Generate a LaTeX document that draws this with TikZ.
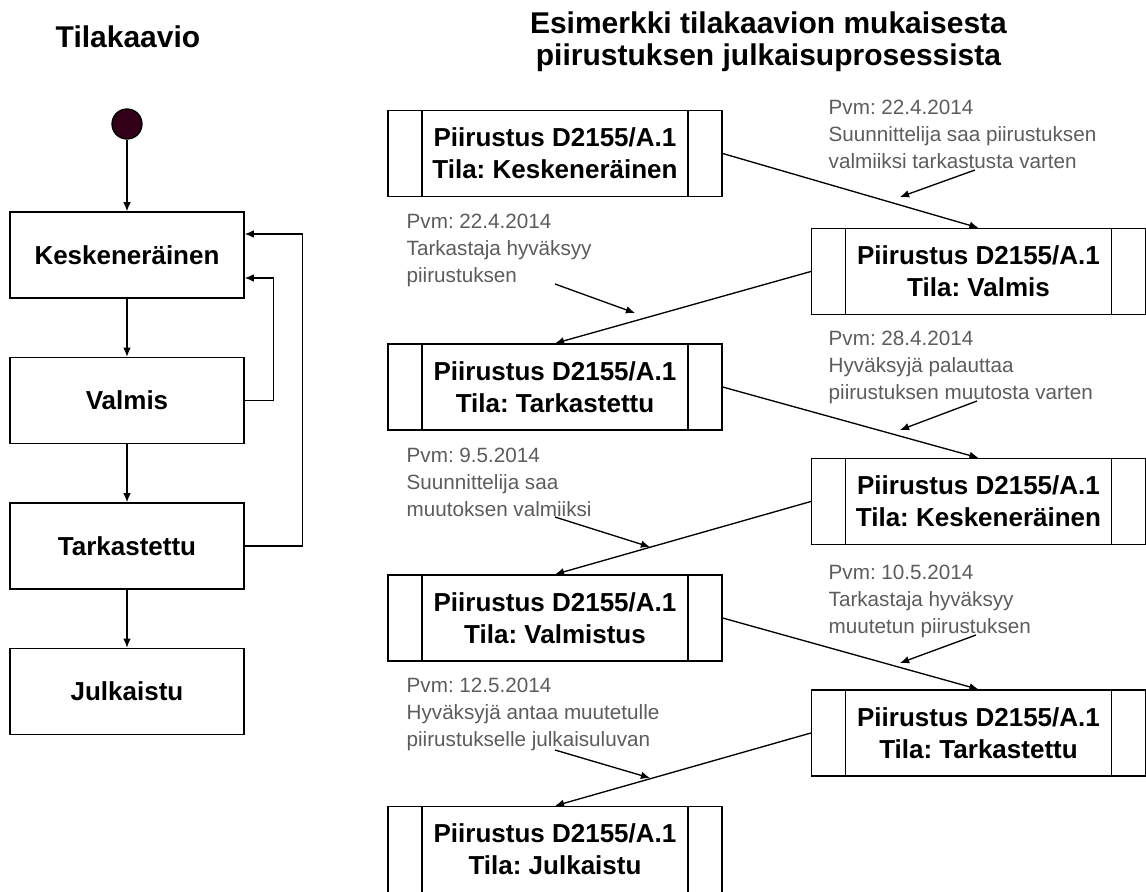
\documentclass[tikz,border=0pt]{standalone}
\usepackage{fontspec}
\setmainfont{Liberation Sans}
\usepackage{tikz}
\usetikzlibrary{arrows.meta,positioning}
\usepackage{xcolor}
\definecolor{notegray}{HTML}{5C5C5C}
\definecolor{startred}{HTML}{33001A}
\frenchspacing

\begin{document}
\begin{tikzpicture}[x=0.75pt,y=-0.75pt,line width=1pt]
	\useasboundingbox (0,0) rectangle (1146,892);
	% left column: the state chart
	\begin{scope}[every node/.style={rectangle,draw,minimum width=175.5pt,minimum height=64.5pt,font=\fontsize{19.5}{24}\selectfont\bfseries}]
		\node[draw=none,minimum width=0pt,minimum height=0pt,anchor=base,font=\fontsize{22.5}{27}\selectfont\bfseries] (title1) at (128,48) {Tilakaavio};
		\node[circle,fill=startred,minimum width=0pt,minimum height=0pt,minimum size=22.5pt,inner sep=0pt] (start) at (127,124) {};
		\node (kesk) at (127,255) {Keskeneräinen};
		\node[below =43.6pt of kesk] (valmis) {Valmis};
		\node[below =43.6pt of valmis] (tark) {Tarkastettu};
		\node[below =43.6pt of tark] (julk) {Julkaistu};
	\end{scope}

	% right column: the drawing going through the states
	\begin{scope}[every node/.style={rectangle,draw,minimum width=250.5pt,minimum height=64.5pt,align=center,font=\fontsize{19.5}{24}\selectfont\bfseries,
		path picture={\draw ([xshift=25.5pt]path picture bounding box.north west) -- ([xshift=25.5pt]path picture bounding box.south west);
			\draw ([xshift=-25.5pt]path picture bounding box.north east) -- ([xshift=-25.5pt]path picture bounding box.south east);}}]
		\node (d1) at (555,153.5) {Piirustus D2155/A.1\\Tila: Keskeneräinen};
		\node (d2) at (978.5,271.5) {Piirustus D2155/A.1\\Tila: Valmis};
		\node (d3) at (555,387) {Piirustus D2155/A.1\\Tila: Tarkastettu};
		\node (d4) at (978.5,501.5) {Piirustus D2155/A.1\\Tila: Keskeneräinen};
		\node (d5) at (555,618) {Piirustus D2155/A.1\\Tila: Valmistus};
		\node (d6) at (978.5,733) {Piirustus D2155/A.1\\Tila: Tarkastettu};
		\node (d7) at (555,849.5) {Piirustus D2155/A.1\\Tila: Julkaistu};
	\end{scope}

	% notes sit on the baseline of their last line
	\begin{scope}[every node/.style={anchor=base west,inner sep=0pt,align=left,text=notegray,font=\fontsize{15.5}{20}\selectfont}]
		\node[anchor=base,text=black,font=\fontsize{22.5}{24}\selectfont\bfseries,align=center] (title2) at (768.5,65) {Esimerkki tilakaavion mukaisesta\\piirustuksen julkaisuprosessista};
		\node (note1) at (828,168) {Pvm: 22.4.2014\\Suunnittelija saa piirustuksen\\valmiiksi tarkastusta varten};
		\node (note2) at (406,282) {Pvm: 22.4.2014\\Tarkastaja hyväksyy\\piirustuksen};
		\node (note3) at (828,399) {Pvm: 28.4.2014\\Hyväksyjä palauttaa\\piirustuksen muutosta varten};
		\node (note4) at (406,516) {Pvm: 9.5.2014\\Suunnittelija saa\\muutoksen valmiiksi};
		\node (note5) at (828,633) {Pvm: 10.5.2014\\Tarkastaja hyväksyy\\muutetun piirustuksen};
		\node (note6) at (406,746) {Pvm: 12.5.2014\\Hyväksyjä antaa muutetulle\\piirustukselle julkaisuluvan};
	\end{scope}

	% ends of the note arrows
	\coordinate (n1a) at (975,170);   \coordinate (n1b) at (900,197);
	\coordinate (n2a) at (555,284);   \coordinate (n2b) at (635,313);
	\coordinate (n3a) at (977,401);   \coordinate (n3b) at (900,430);
	\coordinate (n4a) at (555,517);   \coordinate (n4b) at (650,547);
	\coordinate (n5a) at (976,635);   \coordinate (n5b) at (900,663);
	\coordinate (n6a) at (555,750);   \coordinate (n6b) at (650,778);

	\begin{scope}[-{Latex[length=2.4mm,width=2mm]}]
	\draw (start) edge (kesk);
	\draw (kesk) edge (valmis);
	\draw (valmis) edge (tark);
	\draw (tark) edge (julk);
	\draw (valmis.east) -- ++(29,0) |- ([yshift=-17.25pt]kesk.east);
	\draw (tark.east) -- ++(58,0) |- ([yshift=15.75pt]kesk.east);

	\draw (d1.east) -- (d2.north);
	\draw (d2.west) -- (d3.north);
	\draw (d3.east) -- (d4.north);
	\draw (d4.west) -- (d5.north);
	\draw (d5.east) -- (d6.north);
	\draw (d6.west) -- (d7.north);

	\draw (n1a) -- (n1b);
	\draw (n2a) -- (n2b);
	\draw (n3a) -- (n3b);
	\draw (n4a) -- (n4b);
	\draw (n5a) -- (n5b);
	\draw (n6a) -- (n6b);
	\end{scope}
\end{tikzpicture}
\end{document}
